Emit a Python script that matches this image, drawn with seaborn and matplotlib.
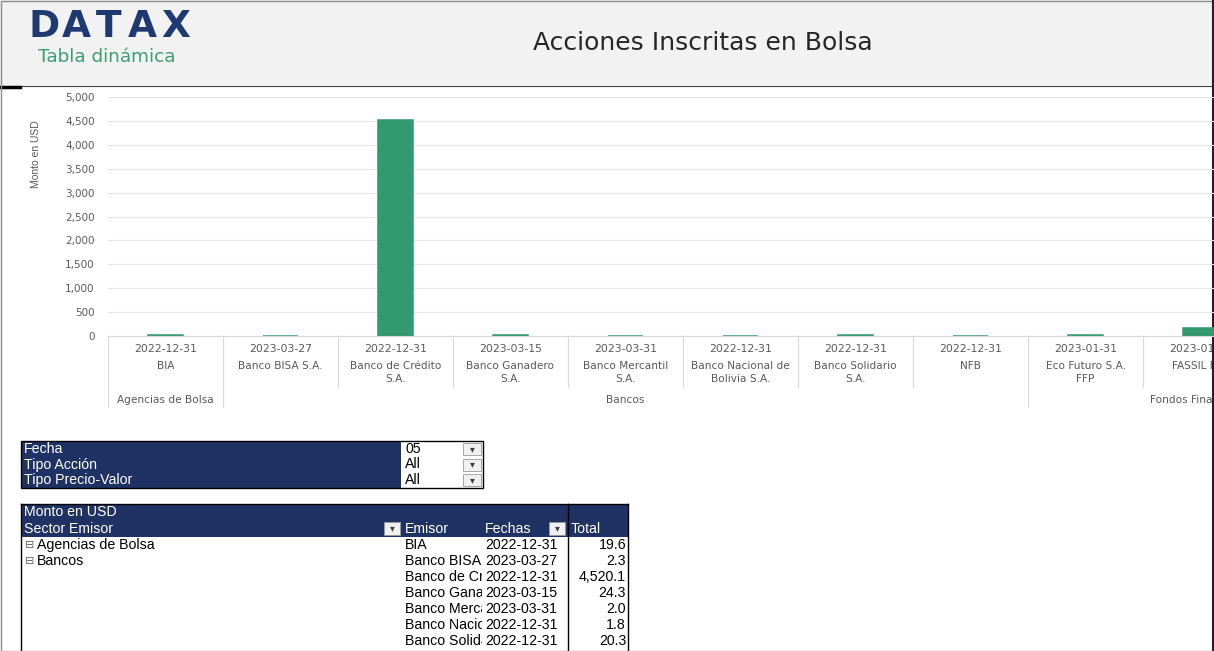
import matplotlib
matplotlib.use("Agg")
import matplotlib.pyplot as plt
import matplotlib.transforms as mtransforms
from matplotlib.patches import Rectangle
from matplotlib.ticker import StrMethodFormatter
import seaborn as sns
import pandas as pd

# datos del grafico
fechas = ["2022-12-31", "2023-03-27", "2022-12-31", "2023-03-15", "2023-03-31",
          "2022-12-31", "2022-12-31", "2022-12-31", "2023-01-31", "2023-01-31"]
emisores = ["BIA", "Banco BISA S.A.", "Banco de Crédito\nS.A.", "Banco Ganadero\nS.A.",
            "Banco Mercantil\nS.A.", "Banco Nacional de\nBolivia S.A.", "Banco Solidario\nS.A.",
            "NFB", "Eco Futuro S.A.\nFFP", "FASSIL FFP"]
montos = [19.6, 2.3, 4520.1, 24.3, 2.0, 1.8, 20.3, 9.0, 12.0, 160.0]
sectores = ["Agencias de Bolsa", "Bancos", "Fondos Financieros"]
sector_span = [(0, 0), (1, 7), (8, 10)]

# tabla dinamica
filtros = ["Fecha", "Tipo Acción", "Tipo Precio-Valor"]
filtro_valores = ["05", "All", "All"]
tabla_sector = ["Agencias de Bolsa", "Bancos", "", "", "", "", ""]
tabla_emisor = ["BIA", "Banco BISA S.A.", "Banco de Crédito S.A.", "Banco Ganadero S.A.",
                "Banco Mercantil S.A.", "Banco Nacional de Bolivia S.A.", "Banco Solidario S.A."]
tabla_fecha = fechas[:7]
tabla_total = montos[:7]

NAVY = "#203264"
GREEN = "#33996E"
GRAY = "#595959"
W, H = 1214, 651
TF = "Liberation Sans"
FS = 10.2

df = pd.DataFrame({"emisor": emisores, "monto": montos})

fig = plt.figure(figsize=(W / 100, H / 100), dpi=100)
fig.patch.set_facecolor("white")

# capa de fondo en pixeles
bg = fig.add_axes([0, 0, 1, 1])
bg.set_xlim(0, W)
bg.set_ylim(H, 0)
bg.axis("off")
bg.set_zorder(0)

# encabezado
bg.add_patch(Rectangle((0, 0), W, 85, fc="#F2F2F2", ec="none"))
bg.plot([0, W], [85.5, 85.5], color="#404040", lw=0.8)
bg.plot([0, 20], [86.5, 86.5], color="black", lw=2.5)
for ch, xc in zip("DATAX", [44, 76, 109, 142, 176]):
    bg.text(xc, 27, ch, fontsize=27, fontweight="bold", color="#1F3A73", ha="center", va="center")
bg.text(38, 57, "Tabla dinámica", fontsize=13.2, color="#3C9E73", ha="left", va="center")
bg.text(703, 43, "Acciones Inscritas en Bolsa", fontsize=18, color="#262626", ha="center", va="center")

# grafico de barras
ax = fig.add_axes([108 / W, 1 - 336 / H, 1150 / W, 239 / H])
ax.set_zorder(2)
ax.patch.set_alpha(0)
sns.barplot(data=df, x="emisor", y="monto", color=GREEN, width=0.313, saturation=1,
            edgecolor=GREEN, linewidth=1.1, ax=ax)
ax.set_xlim(-0.5, 9.5)
ax.set_ylim(0, 5000)
ax.set_yticks(range(0, 5001, 500))
ax.yaxis.set_major_formatter(StrMethodFormatter("{x:,.0f}"))
ax.tick_params(axis="y", length=0, pad=9.5, labelsize=7.5, labelcolor=GRAY)
ax.tick_params(axis="x", length=0, labelbottom=False)
ax.set_xlabel("")
ax.set_ylabel("")
ax.grid(axis="y", color="#E3E3E3", lw=0.8)
ax.set_axisbelow(True)
for s in ["top", "right", "left"]:
    ax.spines[s].set_visible(False)
ax.spines["bottom"].set_color("#D9D9D9")

bg.text(36, 154, "Monto en USD", rotation=90, fontsize=7.5, color=GRAY,
        family="Liberation Sans", ha="center", va="center")

# etiquetas de categorias en varios niveles
trans = mtransforms.blended_transform_factory(ax.transData, bg.transData)
for i, (f, e) in enumerate(zip(fechas, emisores)):
    bg.text(i, 349, f, transform=trans, fontsize=7.8, color=GRAY, ha="center", va="center")
    bg.text(i, 361, e, transform=trans, fontsize=7.6, color=GRAY, ha="center", va="top",
            linespacing=1.4)
group_edges = [a - 0.5 for a, b in sector_span]
for k in range(len(emisores) + 1):
    xb = k - 0.5
    y2 = 407 if xb in group_edges else 387
    bg.plot([xb, xb], [336, y2], transform=trans, color="#D9D9D9", lw=0.8)
for name, (a, b) in zip(sectores, sector_span):
    bg.text((a + b) / 2, 400, name, transform=trans, fontsize=7.6, color=GRAY,
            ha="center", va="center")

# filtros
bg.add_patch(Rectangle((21, 441), 380, 47, fc=NAVY, ec="none"))
bg.add_patch(Rectangle((21, 441), 462, 47, fill=False, ec="black", lw=1))
for i, (f, v) in enumerate(zip(filtros, filtro_valores)):
    y = 449 + 15.5 * i
    bg.text(24, y, f, family=TF, fontsize=FS, color="white", ha="left", va="center")
    bg.text(405, y, v, family=TF, fontsize=FS, color="black", ha="left", va="center")
    bg.add_patch(Rectangle((463, y - 6), 18, 12, fc="#F0F0F0", ec="#9A9A9A", lw=0.6))
    bg.text(472, y, "▾", fontsize=7, color="#404040", ha="center", va="center")

# tabla dinamica
bg.add_patch(Rectangle((21, 504), 607, 33, fc=NAVY, ec="none"))
bg.plot([21, 628], [504, 504], color="black", lw=1)
for xv in [21, 568, 628]:
    bg.plot([xv, xv], [504, H], color="black", lw=1)
for txt, xt, yt in [("Monto en USD", 24, 512), ("Sector Emisor", 24, 529),
                    ("Emisor", 405, 529), ("Fechas", 485, 529), ("Total", 571, 529)]:
    bg.text(xt, yt, txt, family=TF, fontsize=FS, color="white", ha="left", va="center")
for xb in [384, 549]:
    bg.add_patch(Rectangle((xb, 522), 16, 13, fc="#F0F0F0", ec="#9A9A9A", lw=0.6))
    bg.text(xb + 8, 528.5, "▾", fontsize=7, color="#404040", ha="center", va="center")

clip = mtransforms.TransformedBbox(mtransforms.Bbox([[403, 0], [482, H]]), bg.transData)
for i, (s, e, f, t) in enumerate(zip(tabla_sector, tabla_emisor, tabla_fecha, tabla_total)):
    y = 545 + 16 * i
    if s:
        bg.text(25, y, "⊟", fontsize=8, color="#606060", ha="left", va="center")
        bg.text(37, y, s, family=TF, fontsize=FS, color="black", ha="left", va="center")
    txt = bg.text(405, y, e, family=TF, fontsize=FS, color="black", ha="left", va="center")
    txt.set_clip_box(clip)
    txt.set_clip_on(True)
    bg.text(485, y, f, family=TF, fontsize=FS, color="black", ha="left", va="center")
    bg.text(626, y, f"{t:,.1f}", family=TF, fontsize=FS, color="black", ha="right", va="center")

# bordes
bg.add_patch(Rectangle((0.5, 0.5), W - 1, H - 1, fill=False, ec="#8C8C8C", lw=1, zorder=5))
bg.plot([1212.5, 1212.5], [0, H], color="#222222", lw=1.5, zorder=5)

fig.savefig("out.png", dpi=100)
